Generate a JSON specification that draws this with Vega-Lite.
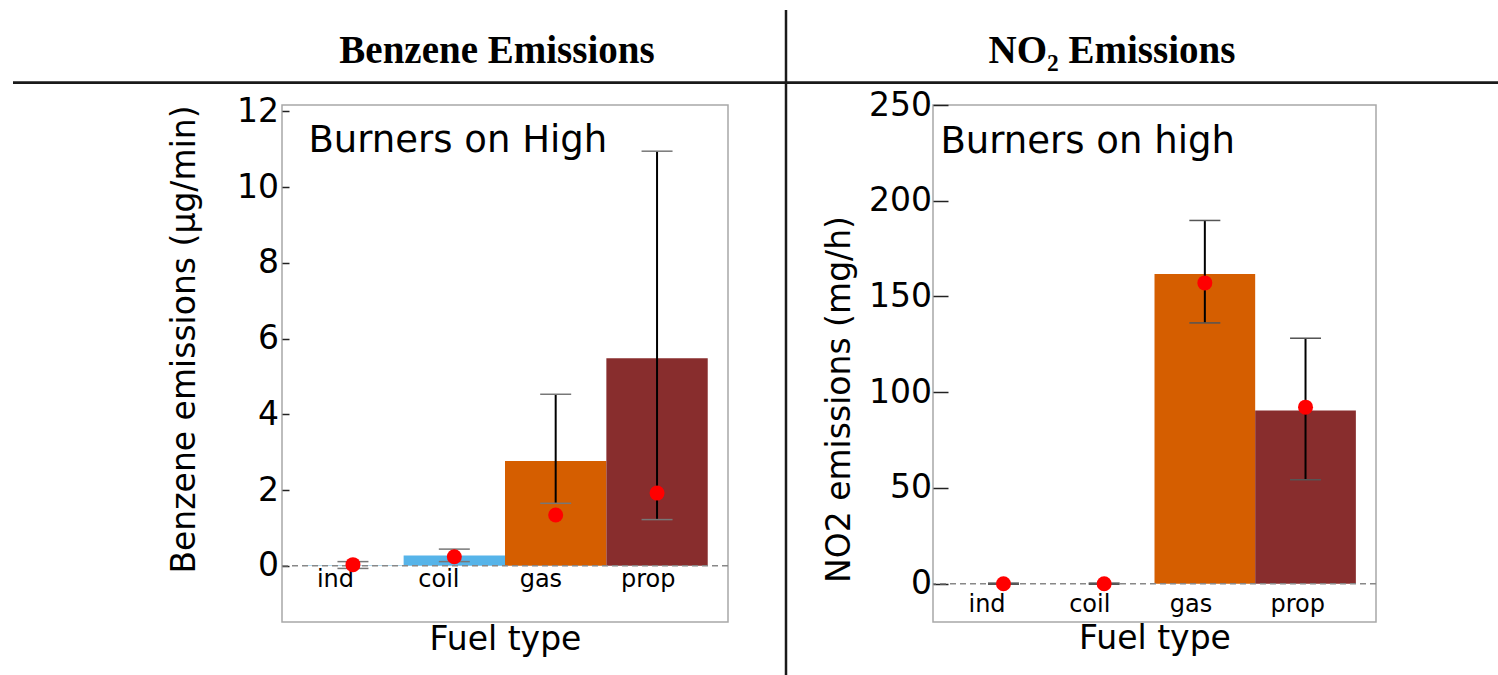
{
  "$schema": "https://vega.github.io/schema/vega-lite/v6.json",
  "padding": {"left": 11, "top": 8, "right": 0, "bottom": 0},
  "background": "white",
  "columns": 7,
  "spacing": 0,
  "bounds": "flush",
  "align": "each",
  "resolve": {"scale": {"x": "independent", "y": "independent", "color": "independent"}},
  "config": {
    "view": {"stroke": null},
    "font": "DejaVu Sans",
    "axis": {"labelFont": "DejaVu Sans", "titleFont": "DejaVu Sans", "labelColor": "black", "titleColor": "black", "titleFontWeight": "normal", "grid": false}
  },
  "datasets": {
    "benzene": [
      {"fuel": "ind", "bar": 0.02, "dot": 0.03, "lo": -0.07, "hi": 0.11},
      {"fuel": "coil", "bar": 0.27, "dot": 0.24, "lo": 0.11, "hi": 0.44},
      {"fuel": "gas", "bar": 2.77, "dot": 1.34, "lo": 1.65, "hi": 4.53},
      {"fuel": "prop", "bar": 5.48, "dot": 1.92, "lo": 1.22, "hi": 10.95}
    ],
    "no2": [
      {"fuel": "ind", "bar": 0, "dot": 0, "lo": -0.3, "hi": 0.3},
      {"fuel": "coil", "bar": 0, "dot": 0, "lo": -0.3, "hi": 0.3},
      {"fuel": "gas", "bar": 161.8, "dot": 157.1, "lo": 136.2, "hi": 189.7},
      {"fuel": "prop", "bar": 90.5, "dot": 92.2, "lo": 54.3, "hi": 128.2}
    ]
  },
  "concat": [
    {
      "width": 269, "height": 95,
      "data": {"values": [{}]},
      "mark": {"type": "rule", "strokeWidth": 2.7, "color": "#1a1a1a"},
      "encoding": {"y": {"datum": 22.3, "type": "quantitative", "scale": {"domain": [0, 95]}, "axis": null}}
    },
    {
      "width": 446, "height": 95,
      "data": {"values": [{"header": "Benzene Emissions"}]},
      "layer": [
        {"mark": {"type": "rule", "strokeWidth": 2.7, "color": "#1a1a1a"},
         "encoding": {"y": {"datum": 22.3, "type": "quantitative", "scale": {"domain": [0, 95]}, "axis": null}}},
        {"mark": {"type": "text", "font": "Liberation Serif", "fontWeight": "bold", "fontSize": 39, "baseline": "alphabetic", "dx": -8, "dy": 5.5, "color": "black"},
         "encoding": {"text": {"field": "header"}}}
      ]
    },
    {
      "width": 57, "height": 95,
      "data": {"values": [{}]},
      "mark": {"type": "rule", "strokeWidth": 2.7, "color": "#1a1a1a"},
      "encoding": {"y": {"datum": 22.3, "type": "quantitative", "scale": {"domain": [0, 95]}, "axis": null}}
    },
    {
      "width": 2, "height": 95,
      "data": {"values": [{}]},
      "layer": [
        {"mark": {"type": "rule", "strokeWidth": 2.7, "color": "#1a1a1a"},
         "encoding": {"y": {"datum": 22.3, "type": "quantitative", "scale": {"domain": [0, 95]}, "axis": null}}},
        {"mark": {"type": "rule", "strokeWidth": 2.5, "color": "#1a1a1a"},
         "encoding": {"x": {"datum": 1, "type": "quantitative", "scale": {"domain": [0, 2]}, "axis": null}}}
      ]
    },
    {
      "width": 146, "height": 95,
      "data": {"values": [{}]},
      "mark": {"type": "rule", "strokeWidth": 2.7, "color": "#1a1a1a"},
      "encoding": {"y": {"datum": 22.3, "type": "quantitative", "scale": {"domain": [0, 95]}, "axis": null}}
    },
    {
      "width": 443, "height": 95,
      "data": {"values": [{"header": "NO₂ Emissions"}]},
      "layer": [
        {"mark": {"type": "rule", "strokeWidth": 2.7, "color": "#1a1a1a"},
         "encoding": {"y": {"datum": 22.3, "type": "quantitative", "scale": {"domain": [0, 95]}, "axis": null}}},
        {"mark": {"type": "text", "font": "Liberation Serif", "fontWeight": "bold", "fontSize": 39, "baseline": "alphabetic", "dx": -42.5, "dy": 5.5, "color": "black"},
         "encoding": {"text": {"field": "header"}}}
      ]
    },
    {
      "width": 124, "height": 95,
      "data": {"values": [{}]},
      "mark": {"type": "rule", "strokeWidth": 2.7, "color": "#1a1a1a"},
      "encoding": {"y": {"datum": 22.3, "type": "quantitative", "scale": {"domain": [0, 95]}, "axis": null}}
    },
    {
      "width": 269, "height": 572,
      "data": {"values": [{}]},
      "mark": {"type": "point", "opacity": 0},
      "encoding": {}
    },
    {
      "width": 446, "height": 517,
      "view": {"stroke": "#a8a8a8", "strokeWidth": 1.5},
      "data": {"name": "benzene"},
      "layer": [
        {
          "mark": {"type": "bar"},
          "encoding": {
            "x": {"field": "fuel", "type": "nominal", "sort": ["ind", "coil", "gas", "prop"],
                  "scale": {"paddingInner": 0, "paddingOuter": 0.2},
                  "axis": {"title": "Fuel type", "domain": false, "ticks": false, "offset": -56.2, "labelAlign": "left", "labelOffset": -36, "labelPadding": 20.7, "labelBaseline": "alphabetic", "labelFontSize": 24, "labelAngle": 0, "titleFontSize": 33, "titleY": 83.4, "titleBaseline": "alphabetic"}},
            "y": {"field": "bar", "type": "quantitative",
                  "scale": {"domain": [-1.485, 12.17], "nice": false, "zero": false},
                  "axis": {"title": "Benzene emissions (µg/min)", "values": [0, 2, 4, 6, 8, 10, 12], "domain": false, "tickSize": -7, "tickWidth": 1.5, "tickColor": "#222", "labelPadding": 10.5, "labelFontSize": 33, "titleFontSize": 33, "titleX": -88, "titleY": 234, "titleBaseline": "alphabetic"}},
            "color": {"field": "fuel", "type": "nominal",
                      "scale": {"domain": ["ind", "coil", "gas", "prop"], "range": ["#9ccfe8", "#56B4E9", "#D55E00", "#882D2D"]},
                      "legend": null}
          }
        },
        {
          "data": {"values": [{}]},
          "mark": {"type": "rule", "strokeDash": [6, 4], "color": "#888888", "strokeWidth": 1.6},
          "encoding": {"y": {"datum": 0, "type": "quantitative"}}
        },
        {
          "mark": {"type": "rule", "color": "black", "strokeWidth": 2},
          "encoding": {
            "x": {"field": "fuel", "type": "nominal", "sort": ["ind", "coil", "gas", "prop"]},
            "y": {"field": "lo", "type": "quantitative"},
            "y2": {"field": "hi"}
          }
        },
        {
          "mark": {"type": "tick", "color": "#777777", "size": 31, "thickness": 1.5, "opacity": 1},
          "encoding": {
            "x": {"field": "fuel", "type": "nominal", "sort": ["ind", "coil", "gas", "prop"]},
            "y": {"field": "lo", "type": "quantitative"}
          }
        },
        {
          "mark": {"type": "tick", "color": "#777777", "size": 31, "thickness": 1.5, "opacity": 1},
          "encoding": {
            "x": {"field": "fuel", "type": "nominal", "sort": ["ind", "coil", "gas", "prop"]},
            "y": {"field": "hi", "type": "quantitative"}
          }
        },
        {
          "mark": {"type": "point", "filled": true, "color": "#ff0000", "size": 225, "opacity": 1},
          "encoding": {
            "x": {"field": "fuel", "type": "nominal", "sort": ["ind", "coil", "gas", "prop"]},
            "y": {"field": "dot", "type": "quantitative"}
          }
        },
        {
          "data": {"values": [{"note": "Burners on High"}]},
          "mark": {"type": "text", "align": "left", "baseline": "alphabetic", "fontSize": 37, "dx": -44.5, "color": "black"},
          "encoding": {
            "x": {"datum": "ind", "type": "nominal"},
            "y": {"datum": 10.92, "type": "quantitative"},
            "text": {"field": "note"}
          }
        }
      ]
    },
    {
      "width": 57, "height": 572,
      "data": {"values": [{}]},
      "mark": {"type": "point", "opacity": 0},
      "encoding": {}
    },
    {
      "width": 2, "height": 572,
      "data": {"values": [{}]},
      "mark": {"type": "rule", "strokeWidth": 2.5, "color": "#1a1a1a"},
      "encoding": {"x": {"datum": 1, "type": "quantitative", "scale": {"domain": [0, 2]}, "axis": null}}
    },
    {
      "width": 146, "height": 572,
      "data": {"values": [{}]},
      "mark": {"type": "point", "opacity": 0},
      "encoding": {}
    },
    {
      "width": 443, "height": 517,
      "view": {"stroke": "#a8a8a8", "strokeWidth": 1.5},
      "data": {"name": "no2"},
      "layer": [
        {
          "mark": {"type": "bar"},
          "encoding": {
            "x": {"field": "fuel", "type": "nominal", "sort": ["ind", "coil", "gas", "prop"],
                  "scale": {"paddingInner": 0, "paddingOuter": 0.2},
                  "axis": {"title": "Fuel type", "domain": false, "ticks": false, "offset": -38.3, "labelAlign": "left", "labelOffset": -35, "labelPadding": 27.6, "labelBaseline": "alphabetic", "labelFontSize": 24, "labelAngle": 0, "titleFontSize": 33, "titleY": 65, "titleBaseline": "alphabetic"}},
            "y": {"field": "bar", "type": "quantitative",
                  "scale": {"domain": [-20, 250], "nice": false, "zero": false},
                  "axis": {"title": "NO2 emissions (mg/h)", "values": [0, 50, 100, 150, 200, 250], "domain": false, "tickSize": -15, "tickWidth": 1.5, "tickColor": "#222", "labelPadding": 16.5, "labelFontSize": 33, "titleFontSize": 33, "titleX": -84, "titleY": 294, "titleBaseline": "alphabetic"}},
            "color": {"field": "fuel", "type": "nominal",
                      "scale": {"domain": ["ind", "coil", "gas", "prop"], "range": ["#9ccfe8", "#56B4E9", "#D55E00", "#882D2D"]},
                      "legend": null}
          }
        },
        {
          "data": {"values": [{}]},
          "mark": {"type": "rule", "strokeDash": [6, 4], "color": "#888888", "strokeWidth": 1.6},
          "encoding": {"y": {"datum": 0, "type": "quantitative"}}
        },
        {
          "mark": {"type": "rule", "color": "black", "strokeWidth": 2},
          "encoding": {
            "x": {"field": "fuel", "type": "nominal", "sort": ["ind", "coil", "gas", "prop"]},
            "y": {"field": "lo", "type": "quantitative"},
            "y2": {"field": "hi"}
          }
        },
        {
          "mark": {"type": "tick", "color": "#555555", "size": 31, "thickness": 1.5, "opacity": 1},
          "encoding": {
            "x": {"field": "fuel", "type": "nominal", "sort": ["ind", "coil", "gas", "prop"]},
            "y": {"field": "lo", "type": "quantitative"}
          }
        },
        {
          "mark": {"type": "tick", "color": "#555555", "size": 31, "thickness": 1.5, "opacity": 1},
          "encoding": {
            "x": {"field": "fuel", "type": "nominal", "sort": ["ind", "coil", "gas", "prop"]},
            "y": {"field": "hi", "type": "quantitative"}
          }
        },
        {
          "mark": {"type": "point", "filled": true, "color": "#ff0000", "size": 225, "opacity": 1},
          "encoding": {
            "x": {"field": "fuel", "type": "nominal", "sort": ["ind", "coil", "gas", "prop"]},
            "y": {"field": "dot", "type": "quantitative"}
          }
        },
        {
          "data": {"values": [{"note": "Burners on high"}]},
          "mark": {"type": "text", "align": "left", "baseline": "alphabetic", "fontSize": 37, "dx": -63, "color": "black"},
          "encoding": {
            "x": {"datum": "ind", "type": "nominal"},
            "y": {"datum": 225, "type": "quantitative"},
            "text": {"field": "note"}
          }
        }
      ]
    },
    {
      "width": 124, "height": 572,
      "data": {"values": [{}]},
      "mark": {"type": "point", "opacity": 0},
      "encoding": {}
    }
  ]
}
